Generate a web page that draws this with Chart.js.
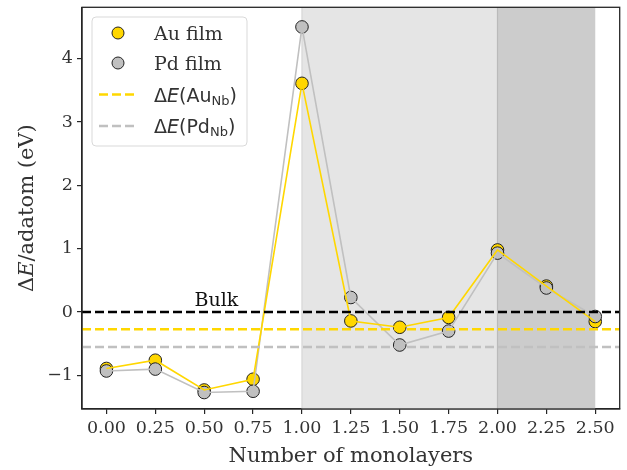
<!DOCTYPE html>
<html lang="en">
<head>
    <meta charset="UTF-8">
    <title>Adatom energy vs monolayers</title>
    <script src="https://cdn.jsdelivr.net/npm/chart.js@4.4.1/dist/chart.umd.min.js"></script>
    <style>
        body { margin: 0; background: #fff; }
        #wrap { width: 627px; height: 470px; }
    </style>
</head>
<body>
<div id="wrap"><canvas id="chart" width="627" height="470"></canvas></div>
<script>
    // data
    const monolayers = [0, 0.25, 0.5, 0.75, 1.0, 1.25, 1.5, 1.75, 2.0, 2.25, 2.5];
    const auFilm = [-0.89, -0.76, -1.23, -1.06, 3.61, -0.14, -0.24, -0.085, 0.98, 0.41, -0.15];
    const pdFilm = [-0.93, -0.90, -1.27, -1.25, 4.50, 0.23, -0.52, -0.30, 0.93, 0.38, -0.07];
    const bulkLevel = 0;
    const auNbLevel = -0.27;
    const pdNbLevel = -0.55;
    const xTicks = [0, 0.25, 0.5, 0.75, 1.0, 1.25, 1.5, 1.75, 2.0, 2.25, 2.5];
    const yTicks = [-1, 0, 1, 2, 3, 4];
    const xMin = -0.125, xMax = 2.625;
    const yMin = -1.53, yMax = 4.81;
    const lightSpan = [1.0, 2.0];
    const darkSpan = [2.0, 2.5];
    const bulkLabel = { x: 0.45, y: 0.1, text: 'Bulk' };

    const GOLD = '#FFD700';
    const SILVER = '#C0C0C0';
    const AXIS = '#262626';

    const toXY = (xs, ys) => xs.map((x, i) => ({ x: x, y: ys[i] }));
    const hline = (v) => [{ x: xMin, y: v }, { x: xMax, y: v }];

    // shaded regions behind everything
    const spansPlugin = {
        id: 'spans',
        beforeDatasetsDraw(chart) {
            const { ctx, chartArea: a, scales: { x } } = chart;
            ctx.save();
            let x1 = x.getPixelForValue(lightSpan[0]), x2 = x.getPixelForValue(lightSpan[1]);
            ctx.fillStyle = '#e5e5e5';
            ctx.fillRect(x1, a.top, x2 - x1, a.bottom - a.top);
            ctx.strokeStyle = '#d6d6d6';
            ctx.lineWidth = 1.2;
            ctx.beginPath(); ctx.moveTo(x1, a.top); ctx.lineTo(x1, a.bottom); ctx.stroke();
            x1 = x.getPixelForValue(darkSpan[0]); x2 = x.getPixelForValue(darkSpan[1]);
            ctx.fillStyle = '#cccccc';
            ctx.fillRect(x1, a.top, x2 - x1, a.bottom - a.top);
            ctx.strokeStyle = '#bababa';
            ctx.beginPath(); ctx.moveTo(x1, a.top); ctx.lineTo(x1, a.bottom); ctx.stroke();
            ctx.restore();
        }
    };

    // frame, axis titles, Bulk label and the legend
    const decorPlugin = {
        id: 'decor',
        afterDraw(chart) {
            const { ctx, chartArea: a, scales: { x, y } } = chart;
            ctx.save();
            ctx.strokeStyle = AXIS;
            ctx.lineWidth = 1.3;
            ctx.strokeRect(a.left, a.top, a.right - a.left, a.bottom - a.top);

            // Bulk
            ctx.fillStyle = '#111';
            ctx.font = '19px "DejaVu Serif"';
            ctx.textBaseline = 'alphabetic';
            ctx.fillText(bulkLabel.text, x.getPixelForValue(bulkLabel.x), y.getPixelForValue(bulkLabel.y));

            // x title
            ctx.fillStyle = '#333';
            ctx.font = '21px "DejaVu Serif"';
            ctx.textAlign = 'center';
            ctx.fillText('Number of monolayers', (a.left + a.right) / 2, 462);

            // y title with italic E
            ctx.save();
            ctx.translate(33, (a.top + a.bottom) / 2);
            ctx.rotate(-Math.PI / 2);
            ctx.textAlign = 'left';
            const parts = [['Δ', '21px "DejaVu Serif"'], ['E', 'italic 21px "DejaVu Serif"'], ['/adatom (eV)', '21px "DejaVu Serif"']];
            let total = 0;
            parts.forEach(p => { ctx.font = p[1]; total += ctx.measureText(p[0]).width; });
            let cx = -total / 2;
            parts.forEach(p => { ctx.font = p[1]; ctx.fillText(p[0], cx, 0); cx += ctx.measureText(p[0]).width; });
            ctx.restore();

            // legend
            ctx.beginPath();
            ctx.roundRect(92, 17, 155, 129, 4);
            ctx.fillStyle = 'rgba(255,255,255,0.8)';
            ctx.fill();
            ctx.strokeStyle = '#d9d9d9';
            ctx.lineWidth = 1;
            ctx.stroke();

            const rows = [33, 63, 94.5, 126];
            [[GOLD, rows[0]], [SILVER, rows[1]]].forEach(([c, ry]) => {
                ctx.beginPath();
                ctx.arc(118, ry, 6, 0, Math.PI * 2);
                ctx.fillStyle = c; ctx.fill();
                ctx.strokeStyle = '#222'; ctx.lineWidth = 1; ctx.stroke();
            });
            [[GOLD, rows[2]], [SILVER, rows[3]]].forEach(([c, ry]) => {
                ctx.beginPath();
                ctx.setLineDash([9, 4]);
                ctx.moveTo(99, ry); ctx.lineTo(138, ry);
                ctx.strokeStyle = c; ctx.lineWidth = 2.5; ctx.stroke();
                ctx.setLineDash([]);
            });
            ctx.fillStyle = '#333';
            ctx.textAlign = 'left';
            ctx.font = '19px "DejaVu Serif"';
            ctx.fillText('Au film', 154, rows[0] + 7);
            ctx.fillText('Pd film', 154, rows[1] + 7);
            const mathLabel = (el, ry) => {
                let px = 154;
                const base = ry + 7;
                const seg = [['Δ', '19px "DejaVu Sans"', 0], ['E', 'italic 19px "DejaVu Sans"', 0],
                             ['(' + el, '19px "DejaVu Sans"', 0], ['Nb', '13px "DejaVu Sans"', 3], [')', '19px "DejaVu Sans"', 0]];
                seg.forEach(s => {
                    ctx.font = s[1];
                    ctx.fillText(s[0], px, base + s[2]);
                    px += ctx.measureText(s[0]).width;
                });
            };
            mathLabel('Au', rows[2]);
            mathLabel('Pd', rows[3]);
            ctx.restore();
        }
    };

    const tickFont = { family: 'DejaVu Serif', size: 17.5 };

    new Chart(document.getElementById('chart'), {
        type: 'scatter',
        data: {
            datasets: [
                { label: 'Au film', data: toXY(monolayers, auFilm), showLine: false, pointRadius: 6.3,
                  pointBackgroundColor: GOLD, pointBorderColor: '#222', pointBorderWidth: 1, order: 6 },
                { label: 'Pd film', data: toXY(monolayers, pdFilm), showLine: false, pointRadius: 6.3,
                  pointBackgroundColor: SILVER, pointBorderColor: '#222', pointBorderWidth: 1, order: 5 },
                { label: 'Pd line', data: toXY(monolayers, pdFilm), showLine: true, pointRadius: 0,
                  borderColor: SILVER, borderWidth: 1.6, order: 4 },
                { label: 'Au line', data: toXY(monolayers, auFilm), showLine: true, pointRadius: 0,
                  borderColor: GOLD, borderWidth: 1.6, order: 3 },
                { label: 'Bulk', data: hline(bulkLevel), showLine: true, pointRadius: 0,
                  borderColor: '#000', borderWidth: 2.5, borderDash: [9, 4], order: 2 },
                { label: 'ΔE(AuNb)', data: hline(auNbLevel), showLine: true, pointRadius: 0,
                  borderColor: GOLD, borderWidth: 2.5, borderDash: [9, 4], order: 1 },
                { label: 'ΔE(PdNb)', data: hline(pdNbLevel), showLine: true, pointRadius: 0,
                  borderColor: SILVER, borderWidth: 2.5, borderDash: [9, 4], order: 1 }
            ]
        },
        options: {
            responsive: false,
            animation: false,
            layout: { padding: { top: 0, right: 6, left: 0, bottom: 0 } },
            plugins: { legend: { display: false }, tooltip: { enabled: false } },
            scales: {
                x: {
                    type: 'linear', min: xMin, max: xMax,
                    afterBuildTicks: s => { s.ticks = xTicks.map(v => ({ value: v })); },
                    afterFit: s => { s.height = 61; s.paddingLeft = 0; s.paddingRight = 0; },
                    ticks: { callback: v => v.toFixed(2), font: tickFont, color: '#333', padding: 4, maxRotation: 0, autoSkip: false },
                    grid: { display: true, drawOnChartArea: false, drawTicks: true, tickLength: 5, color: AXIS, lineWidth: 1.2 },
                    border: { display: true, color: AXIS, width: 1.3 }
                },
                y: {
                    type: 'linear', min: yMin, max: yMax,
                    afterBuildTicks: s => { s.ticks = yTicks.map(v => ({ value: v })); },
                    afterFit: s => { s.width = 82; s.paddingTop = 7; s.paddingBottom = 0; },
                    ticks: { callback: v => v < 0 ? '\u2212' + Math.abs(v) : String(v), font: tickFont, color: '#333', padding: 4, autoSkip: false },
                    grid: { display: true, drawOnChartArea: false, drawTicks: true, tickLength: 5, color: AXIS, lineWidth: 1.2 },
                    border: { display: true, color: AXIS, width: 1.3 }
                }
            }
        },
        plugins: [spansPlugin, decorPlugin]
    });
</script>
</body>
</html>
